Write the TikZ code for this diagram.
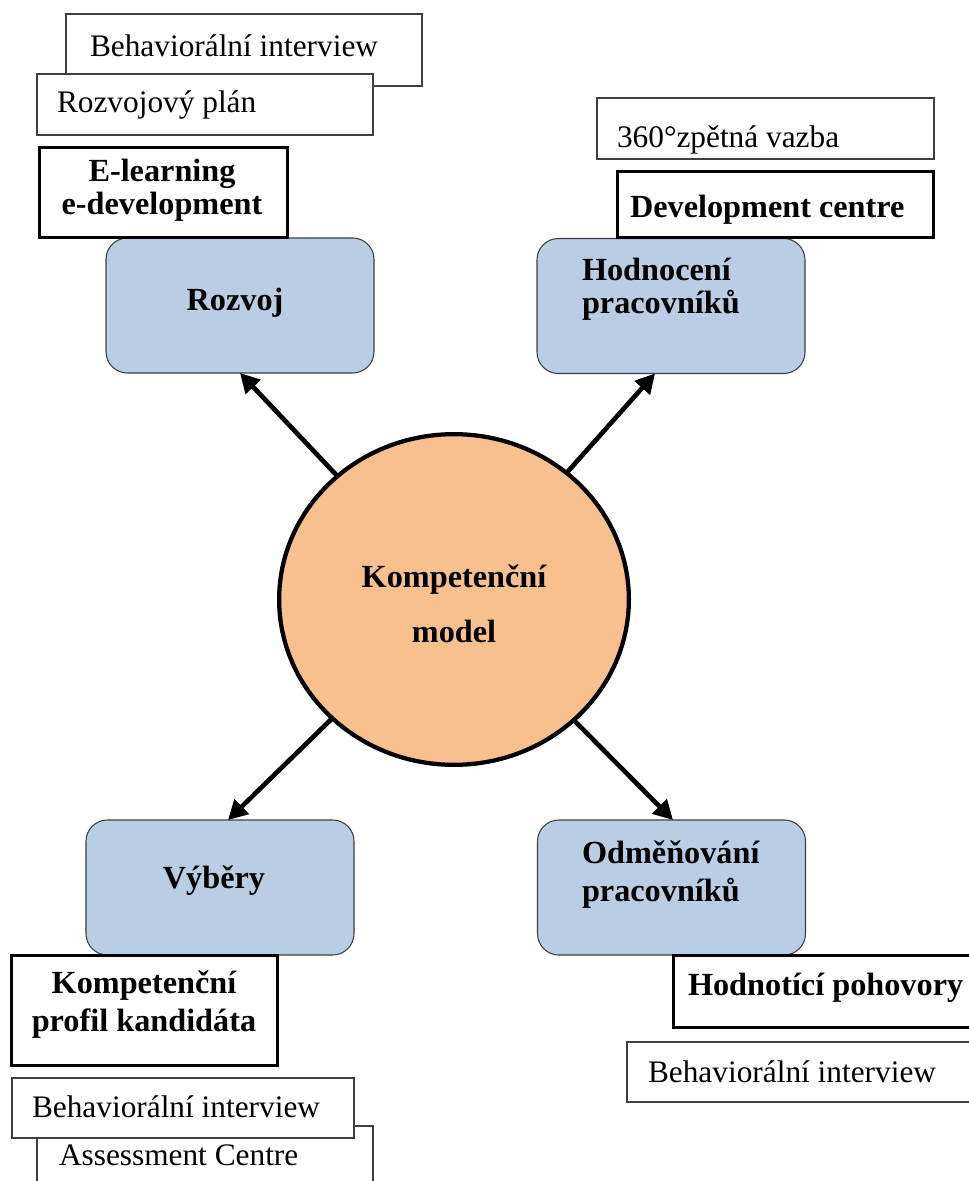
\documentclass[tikz,border=0pt]{standalone}
\usepackage{fontspec}
\setmainfont{Liberation Serif}
\usetikzlibrary{arrows.meta,calc,shapes.geometric}
\definecolor{boxblue}{HTML}{B9CDE5}
\definecolor{peach}{HTML}{F9C08F}
\definecolor{edge}{HTML}{3F3F3F}
% two stacked lines whose reference point is the first baseline
\newcommand\twolines[4]{{\fontsize{24.2}{#2}\selectfont\begin{tabular}[t]{@{}#1@{}}#3\\#4\end{tabular}}}

\begin{document}
\begin{tikzpicture}[x=0.75pt,y=-0.75pt,
  every node/.style={inner sep=0pt, outer sep=0pt, font=\fontsize{23.5}{26}\selectfont},
  thinbox/.style={draw=edge, line width=0.8pt, fill=white, rectangle},
  thickbox/.style={draw=black, line width=2.5pt, fill=white, rectangle},
  areabox/.style={draw=edge, line width=0.8pt, fill=boxblue, rectangle, rounded corners=16pt,
    minimum width=201pt, minimum height=101.25pt},
  core/.style={draw=black, line width=3.2pt, fill=peach, ellipse,
    minimum width=262.3pt, minimum height=248pt},
  txt/.style={anchor=base west},
  btxt/.style={anchor=base west, font=\fontsize{24.2}{26}\selectfont\bfseries},
  ctxt/.style={anchor=base, font=\fontsize{24.2}{26}\selectfont\bfseries},
  arr/.style={line width=3.5pt, -{Triangle[length=14.5pt, width=15pt]}}
]
\useasboundingbox (0,0) rectangle (969,1181);

% central model
\node[core] (c) at (454,599.5) {};
\node[ctxt] (c-t) at (454,587) {\bfseries\twolines{c}{41.25}{Kompetenční}{model}};

% four application areas
\node[areabox] (rozvoj) at (240,305.5) {};
\node[areabox] (hodn) at (671,306) {};
\node[areabox] (vyb) at (220,887.5) {};
\node[areabox] (odm) at (671.5,887.5) {};
\node[ctxt] (rozvoj-t) at (235,310) {Rozvoj};
\node[btxt] (hodn-t) at (582,280) {\bfseries\twolines{l}{24.75}{Hodnocení}{pracovníků}};
\node[ctxt] (vyb-t) at (214,888) {Výběry};
\node[btxt] (odm-t) at (582,863) {\bfseries\twolines{l}{28.5}{Odměňování}{pracovníků}};

% tools: top left
\node[thinbox, minimum width=267pt, minimum height=54pt] (bi1) at (244,50) {};
\node[txt] (bi1-t) at (90,57) {Behaviorální interview};
\node[thinbox, minimum width=252pt, minimum height=45.75pt] (rp) at (205,104.5) {};
\node[txt] (rp-t) at (57,113) {Rozvojový plán};
\node[thickbox, minimum width=185.7pt, minimum height=67.2pt] (el) at (163.5,192.5) {};
\node[ctxt] (el-t) at (162,181) {\bfseries\twolines{c}{24.75}{E-learning}{e-development}};

% tools: top right
\node[thinbox, minimum width=252.75pt, minimum height=45.75pt] (z360) at (765.5,128.5) {};
\node[txt] (z360-t) at (617,147) {360°zpětná vazba};
\node[thickbox, minimum width=236.8pt, minimum height=49.3pt] (dc) at (775.5,204.5) {};
\node[btxt] (dc-t) at (630,217) {Development centre};

% tools: bottom left
\node[thickbox, minimum width=199.3pt, minimum height=82.3pt] (kp) at (144.5,1010.5) {};
\node[ctxt] (kp-t) at (144,993) {\bfseries\twolines{c}{28.5}{Kompetenční}{profil kandidáta}};
\node[thinbox, minimum width=252pt, minimum height=49.5pt] (ac) at (205,1159) {};
\node[txt] (ac-t) at (59,1165) {Assessment Centre};
\node[thinbox, minimum width=256.5pt, minimum height=45pt] (bi2) at (183,1108) {};
\node[txt] (bi2-t) at (32,1117) {Behaviorální interview};

% tools: bottom right
\node[thickbox, minimum width=243.5pt, minimum height=53.8pt] (hp) at (836,991.5) {};
\node[btxt] (hp-t) at (688,995) {Hodnotící pohovory};
\node[thinbox, minimum width=268.5pt, minimum height=45pt] (bi3) at (806,1072) {};
\node[txt] (bi3-t) at (648,1082) {Behaviorální interview};

% arrow targets on the area boxes
\coordinate (a1) at (rozvoj.south);
\coordinate (a2) at ($(hodn.south)+(-16,0)$);
\coordinate (a3) at ($(vyb.north)+(8,0)$);
\coordinate (a4) at ($(odm.north)+(1.5,0)$);

\draw[arr] (c) -- (a1);
\draw[arr] (c) -- (a2);
\draw[arr] (c) -- (a3);
\draw[arr] (c) -- (a4);
\end{tikzpicture}
\end{document}
